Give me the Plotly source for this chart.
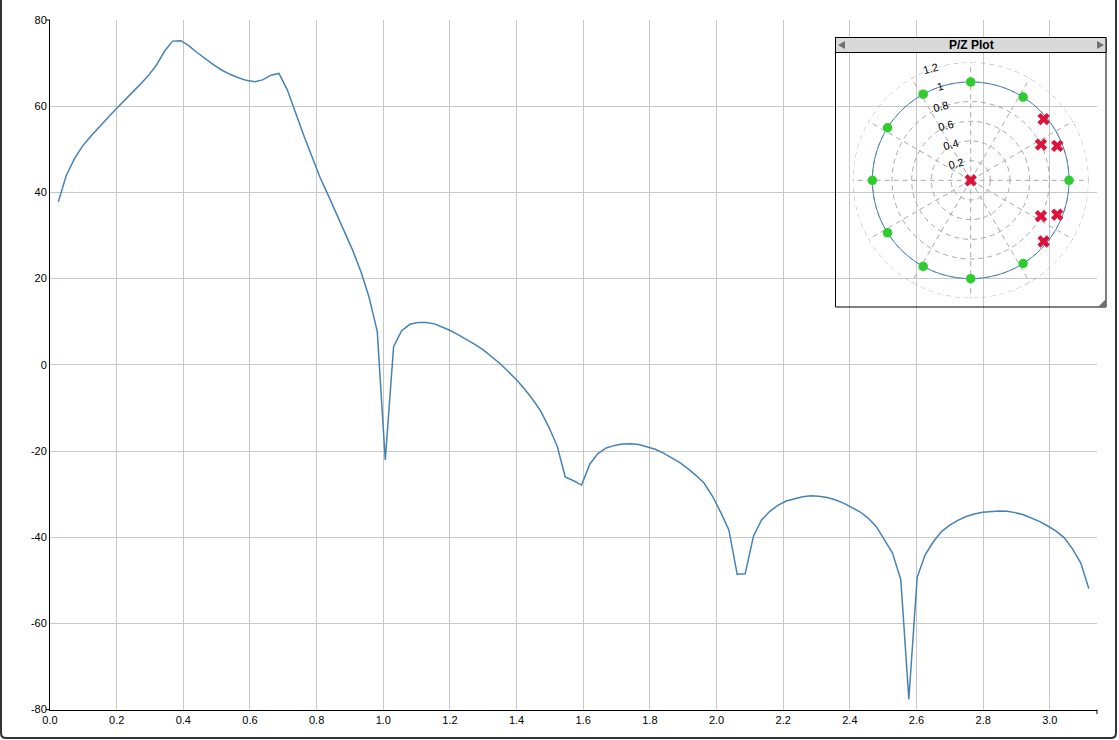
import plotly.graph_objects as go

# ---- Magnitude response (rad/sample vs dB) ----
freq = [0.025, 0.049, 0.074, 0.098, 0.123, 0.147, 0.172, 0.196, 0.221, 0.245,
        0.270, 0.295, 0.319, 0.344, 0.368, 0.393, 0.417, 0.442, 0.466, 0.491,
        0.515, 0.540, 0.565, 0.589, 0.614, 0.638, 0.663, 0.687, 0.712, 0.736,
        0.761, 0.785, 0.810, 0.834, 0.859, 0.884, 0.908, 0.933, 0.957, 0.982,
        1.006, 1.031, 1.055, 1.080, 1.104, 1.129, 1.154, 1.178, 1.203, 1.227,
        1.252, 1.276, 1.301, 1.325, 1.350, 1.374, 1.399, 1.424, 1.448, 1.473,
        1.497, 1.522, 1.546, 1.571, 1.595, 1.620, 1.644, 1.669, 1.694, 1.718,
        1.743, 1.767, 1.792, 1.816, 1.841, 1.865, 1.890, 1.914, 1.939, 1.963,
        1.988, 2.013, 2.037, 2.062, 2.086, 2.111, 2.135, 2.160, 2.184, 2.209,
        2.234, 2.258, 2.283, 2.307, 2.332, 2.356, 2.381, 2.405, 2.430, 2.454,
        2.479, 2.503, 2.528, 2.553, 2.577, 2.602, 2.626, 2.651, 2.675, 2.700,
        2.724, 2.749, 2.773, 2.798, 2.823, 2.847, 2.872, 2.896, 2.921, 2.945,
        2.970, 2.994, 3.019, 3.043, 3.068, 3.093, 3.117]
mag_db = [37.8, 44.0, 47.9, 50.8, 53.1, 55.2, 57.2, 59.2, 61.1, 63.0,
          65.0, 67.1, 69.5, 72.8, 75.1, 75.2, 74.0, 72.4, 71.0, 69.6,
          68.4, 67.4, 66.6, 66.0, 65.7, 66.1, 67.2, 67.6, 63.8, 58.5,
          53.3, 48.5, 43.5, 39.5, 35.2, 31.0, 26.6, 21.6, 15.8, 7.7,
          -22.1, 4.2, 7.9, 9.4, 9.8, 9.8, 9.5, 8.7, 7.9, 6.9,
          5.8, 4.7, 3.4, 1.9, 0.3, -1.5, -3.4, -5.6, -8.0, -10.8,
          -14.5, -18.9, -26.0, -26.9, -27.9, -23.0, -20.6, -19.3, -18.7, -18.4,
          -18.3, -18.5, -19.0, -19.6, -20.5, -21.5, -22.7, -24.1, -25.7, -27.5,
          -30.5, -34.3, -38.3, -48.6, -48.5, -39.7, -36.0, -34.0, -32.6, -31.6,
          -31.0, -30.6, -30.4, -30.5, -30.8, -31.3, -32.1, -33.0, -34.1, -35.5,
          -37.5, -40.5, -43.7, -49.9, -77.6, -49.3, -44.1, -41.0, -38.7, -37.2,
          -36.1, -35.2, -34.6, -34.2, -34.0, -33.9, -34.0, -34.3, -34.8, -35.5,
          -36.4, -37.4, -38.6, -40.1, -42.7, -46.0, -51.9]

x_tickvals = [0.0, 0.2, 0.4, 0.6, 0.8, 1.0, 1.2, 1.4, 1.6, 1.8, 2.0, 2.2, 2.4, 2.6, 2.8, 3.0]
x_ticktext = ["0.0", "0.2", "0.4", "0.6", "0.8", "1.0", "1.2", "1.4", "1.6", "1.8",
              "2.0", "2.2", "2.4", "2.6", "2.8", "3.0"]
y_tickvals = [-80, -60, -40, -20, 0, 20, 40, 60, 80]
y_ticktext = ["-80", "-60", "-40", "-20", "0", "20", "40", "60", "80"]

# ---- Pole / zero plot ----
zero_r = [1, 1, 1, 1, 1, 1, 1, 1, 1, 1]
zero_theta = [0, 57.8, 90, 118.9, 147.7, 180, -147.7, -118.9, -90, -57.8]
pole_r = [0, 0.968, 0.802, 0.947, 0.968, 0.802, 0.947]
pole_theta = [0, 40.0, 27.0, 21.7, -40.0, -27.0, -21.7]
radial_tickvals = [0.2, 0.4, 0.6, 0.8, 1.0, 1.2]
radial_ticktext = ["0.2", "0.4", "0.6", "0.8", "1", "1.2"]
unit_theta = list(range(0, 361, 3))
unit_r = [1] * len(unit_theta)
outer_r = [1.2] * len(unit_theta)

W, H = 1119, 740
def px(v):
    return v / W
def py(v):
    return 1 - v / H

GRID_DASH = "5px,4px"
GRID_COL = "#a8a8a8"

fig = go.Figure()
fig.add_trace(go.Scatter(x=freq, y=mag_db, mode="lines",
                         line=dict(color="#4682b4", width=1.5),
                         xaxis="x", yaxis="y", hoverinfo="skip"))

fig.add_trace(go.Scatterpolar(r=outer_r, theta=unit_theta, mode="lines",
                              line=dict(color=GRID_COL, width=1, dash=GRID_DASH),
                              subplot="polar", hoverinfo="skip"))
fig.add_trace(go.Scatterpolar(r=unit_r, theta=unit_theta, mode="lines",
                              line=dict(color="#4682b4", width=1),
                              subplot="polar", hoverinfo="skip"))
fig.add_trace(go.Scatterpolar(r=zero_r, theta=zero_theta, mode="markers",
                              marker=dict(color="#2ecc2e", size=9.5, symbol="circle"),
                              subplot="polar"))
fig.add_trace(go.Scatterpolar(r=pole_r, theta=pole_theta, mode="markers",
                              marker=dict(color="#dc143c", size=11, symbol="x"),
                              subplot="polar"))

tickfont = dict(family="Liberation Sans, Arial, sans-serif", size=11, color="#000")

fig.update_layout(
    width=W, height=H,
    autosize=False,
    margin=dict(l=0, r=0, t=0, b=0, pad=0, autoexpand=False),
    paper_bgcolor="white", plot_bgcolor="white",
    showlegend=False,
    xaxis=dict(domain=[px(50), px(1097)], range=[0, 3.14159],
               tickvals=x_tickvals, ticktext=x_ticktext, tickfont=tickfont,
               showgrid=True, gridcolor="#c8c8c8", gridwidth=1,
               zeroline=False, showline=True, linecolor="#000", linewidth=1,
               ticks="", anchor="y", automargin=False),
    yaxis=dict(domain=[py(709.6), py(20)], range=[-80, 80],
               tickvals=y_tickvals, ticktext=y_ticktext, tickfont=tickfont,
               showgrid=True, gridcolor="#c8c8c8", gridwidth=1,
               zeroline=False, showline=True, linecolor="#000", linewidth=1,
               ticks="", anchor="x", automargin=False),
    polar=dict(
        domain=dict(x=[px(852.7), px(1088.7)], y=[py(298.3), py(62.3)]),
        bgcolor="rgba(0,0,0,0)",
        radialaxis=dict(range=[0, 1.2], tickvals=radial_tickvals, ticktext=radial_ticktext,
                        angle=105, tickangle=90, side="counterclockwise",
                        showline=False, ticks="",
                        gridcolor=GRID_COL, griddash=GRID_DASH,
                        tickfont=dict(family="Liberation Sans, Arial, sans-serif", size=11, color="#000")),
        angularaxis=dict(dtick=30, showticklabels=False, ticks="", showline=False,
                         gridcolor=GRID_COL, griddash=GRID_DASH),
    ),
    shapes=[
        # outer frame
        dict(type="path", xref="paper", yref="paper",
             path=f"M {px(1)},{py(-5)} L {px(1)},{py(733)} Q {px(1)},{py(738)} {px(6)},{py(738)} "
                  f"L {px(1111)},{py(738)} Q {px(1116)},{py(738)} {px(1116)},{py(733)} L {px(1116)},{py(-5)}",
             line=dict(color="#333", width=2)),
        # outer axis ticks
        dict(type="line", xref="paper", yref="paper", x0=px(46), x1=px(50), y0=py(20), y1=py(20),
             line=dict(color="#000", width=1)),
        dict(type="line", xref="paper", yref="paper", x0=px(46), x1=px(50), y0=py(709.6), y1=py(709.6),
             line=dict(color="#000", width=1)),
        dict(type="line", xref="paper", yref="paper", x0=px(1097), x1=px(1097), y0=py(709.6), y1=py(714),
             line=dict(color="#000", width=1)),
        # inset box
        dict(type="rect", xref="paper", yref="paper",
             x0=px(835.5), x1=px(1106), y0=py(307), y1=py(37.5),
             line=dict(color="#000", width=1), fillcolor="rgba(0,0,0,0)"),
        # title bar
        dict(type="rect", xref="paper", yref="paper",
             x0=px(835.5), x1=px(1106), y0=py(52.5), y1=py(37.5),
             line=dict(color="#000", width=1), fillcolor="#d9d9d9"),
        dict(type="path", xref="paper", yref="paper",
             path=f"M {px(838)},{py(45)} L {px(845)},{py(41)} L {px(845)},{py(49)} Z",
             fillcolor="#707070", line=dict(width=0)),
        dict(type="path", xref="paper", yref="paper",
             path=f"M {px(1104)},{py(45)} L {px(1097)},{py(41)} L {px(1097)},{py(49)} Z",
             fillcolor="#707070", line=dict(width=0)),
        # resize handle
        dict(type="path", xref="paper", yref="paper",
             path=f"M {px(1106)},{py(299)} L {px(1106)},{py(307)} L {px(1098)},{py(307)} Z",
             fillcolor="#707070", line=dict(width=0)),
    ],
    annotations=[
        dict(text="<b>P/Z Plot</b>", x=px(971), y=py(45), xref="paper", yref="paper",
             showarrow=False, xanchor="center", yanchor="middle",
             font=dict(family="Liberation Sans, Arial, sans-serif", size=12, color="#000")),
    ],
)

fig.write_html("out.html")
